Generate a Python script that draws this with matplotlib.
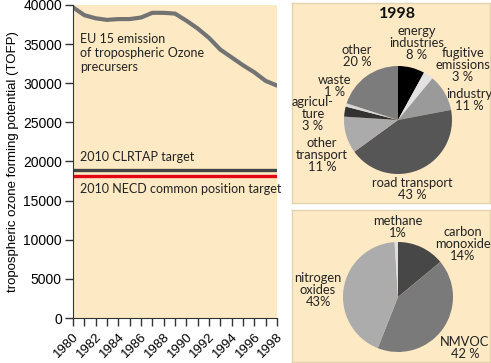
import matplotlib
matplotlib.use("Agg")
import matplotlib.pyplot as plt
import numpy as np

# ---- data ----
years = list(range(1980, 1999))
tofp = [39700, 38700, 38300, 38100, 38200, 38200, 38400, 39000, 39000, 38900,
        38000, 37000, 35800, 34300, 33300, 32300, 31400, 30300, 29700]
clrtap_target = 18900
necd_target = 18150
xtick_years = list(range(1980, 1999, 2))
yticks = list(range(0, 40001, 5000))

sector_labels = ["energy\nindustries\n8 %", "fugitive\nemissions\n3 %", "industry\n11 %",
                 "road transport\n43 %", "other\ntransport\n11 %", "agricul-\nture\n3 %",
                 "waste\n1 %", "other\n20 %"]
sector_values = [8, 3, 11, 43, 11, 3, 1, 20]
sector_colors = ["#000000", "#e2e2e2", "#9a9a9a", "#565656", "#ababab", "#333333", "#d8d8d8", "#7c7c7c"]

gas_labels = ["carbon\nmonoxide\n14%", "NMVOC\n42 %", "nitrogen\noxides\n43%", "methane\n1%"]
gas_values = [14, 42, 43, 1]
gas_colors = ["#474747", "#7a7a7a", "#acacac", "#dedede"]

BG = "#FDEAC4"
W, H = 491, 363
FONT = "Lato"

fig = plt.figure(figsize=(W / 100, H / 100), dpi=100)

def fx(px):
    return px / W

def fy(py):
    return 1 - py / H

# ---- left line chart ----
ax = fig.add_axes([fx(73), fy(318), fx(277 - 73), (318 - 5) / H])
ax.set_facecolor(BG)
ax.plot(years, tofp, color="#737373", lw=3.0, solid_capstyle="round")
ax.axhline(clrtap_target, color="#444444", lw=2.4)
ax.axhline(necd_target, color="#e30613", lw=2.4)
ax.set_xlim(1980, 1998)
ax.set_ylim(0, 40000)
ax.set_yticks(yticks)
ax.set_xticks(years, minor=False)
ax.set_xticklabels([str(y) if y in xtick_years else "" for y in years],
                   rotation=45, ha="right", rotation_mode="anchor", fontsize=9.5,
                   family="Liberation Sans")
ax.tick_params(axis="x", length=6, width=1, color="#333333", pad=3)
ax.tick_params(axis="y", length=6, width=1, color="#333333", labelsize=10, pad=2)
for lab in ax.get_yticklabels():
    lab.set_family("Liberation Sans")
for s in ["top", "right"]:
    ax.spines[s].set_visible(False)
ax.spines["left"].set_color("#333333")
ax.spines["bottom"].set_color("#333333")
ax.set_ylabel("tropospheric ozone forming potential (TOFP)", fontsize=9.5,
              family="Liberation Sans", labelpad=3)

ax.text(0.035, 0.91, "EU 15 emission\nof tropospheric Ozone\nprecursers", transform=ax.transAxes,
        fontsize=9, family=FONT, va="top", ha="left", linespacing=1.2, color="#222222")
ax.text(0.035, clrtap_target + 900, "2010 CLRTAP target", transform=ax.get_yaxis_transform(),
        fontsize=9, family=FONT, va="bottom", ha="left", color="#222222")
ax.text(0.035, necd_target - 900, "2010 NECD common position target", transform=ax.get_yaxis_transform(),
        fontsize=9, family=FONT, va="top", ha="left", color="#222222")

# ---- right panels ----
def panel(x0, y0, x1, y1):
    p = fig.add_axes([fx(x0), fy(y1), fx(x1 - x0), (y1 - y0) / H])
    p.set_facecolor(BG)
    p.set_xticks([])
    p.set_yticks([])
    for s in p.spines.values():
        s.set_color("#e3d2ae")
        s.set_linewidth(1)
    return p

panel(292, 3, 490, 203)
panel(292, 210, 490, 362)

def pie_axes(cx, cy, r):
    a = fig.add_axes([fx(cx - r), fy(cy + r), fx(2 * r), 2 * r / H])
    a.set_axis_off()
    return a

a1 = pie_axes(398, 120, 54)
a1.pie(sector_values, colors=sector_colors, startangle=90, counterclock=False,
       wedgeprops=dict(linewidth=0))
a1.set_xlim(-1, 1)
a1.set_ylim(-1, 1)

a2 = pie_axes(398, 297, 55)
a2.pie(gas_values, colors=gas_colors, startangle=90, counterclock=False,
       wedgeprops=dict(linewidth=0))
a2.set_xlim(-1, 1)
a2.set_ylim(-1, 1)

fig.text(fx(397), fy(14), "1998", fontsize=11.5, fontweight="bold", family=FONT,
         ha="center", va="center", color="#111111")

sector_pos = [(417, 43), (463, 65), (469, 100), (412, 189), (322, 155), (313, 114), (335, 86), (357, 56)]
for lab, (px, py) in zip(sector_labels, sector_pos):
    fig.text(fx(px), fy(py), lab, fontsize=9.3, family=FONT, ha="center", va="center",
             linespacing=1.0, color="#222222")

gas_pos = [(463, 244), (465, 348), (318, 290), (398, 227)]
for lab, (px, py) in zip(gas_labels, gas_pos):
    fig.text(fx(px), fy(py), lab, fontsize=9.3, family=FONT, ha="center", va="center",
             linespacing=1.0, color="#222222")

fig.savefig("out.png", dpi=100)
